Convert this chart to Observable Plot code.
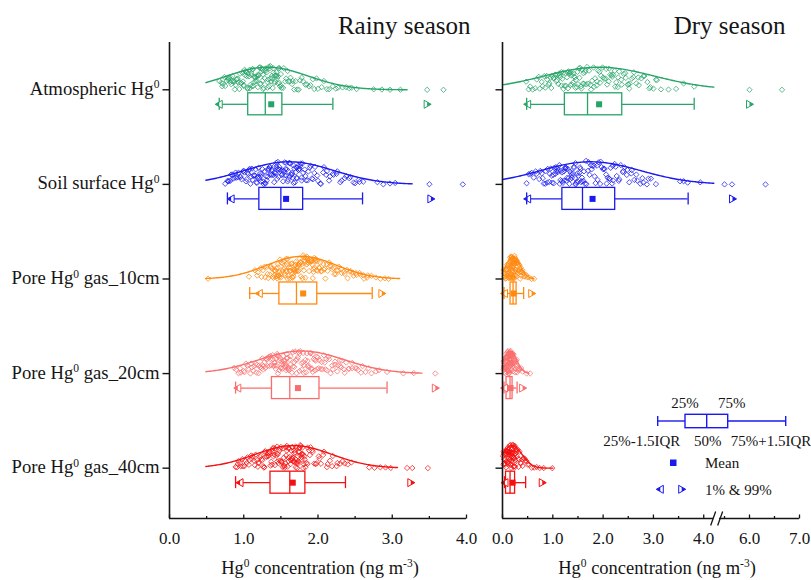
<!DOCTYPE html>
<html><head><meta charset="utf-8">
<script src="https://cdn.jsdelivr.net/npm/d3@7"></script>
<script src="https://cdn.jsdelivr.net/npm/@observablehq/plot@0.6"></script>
<style>
body{margin:0;background:#fff;}
#wrap{position:relative;width:811px;height:580px;overflow:hidden;background:#fff}
#left{position:absolute;left:0;top:0}
#right{position:absolute;left:485px;top:0}
</style></head><body><div id="wrap"><div id="left"></div><div id="right"></div></div>
<script>
const FONT = '"Liberation Serif", "Times New Roman", Times, serif';

const categories = ["Atmospheric Hg\u2070", "Soil surface Hg\u2070", "Pore Hg\u2070 gas_10cm", "Pore Hg\u2070 gas_20cm", "Pore Hg\u2070 gas_40cm"];
const seriesColors = ["#27a468", "#1a1aef", "#ff8a10", "#f96d6d", "#f41010"];
const seasonTitles = ["Rainy season", "Dry season"];
const axisTitle = "Hg\u2070 concentration (ng m\u207B\u00B3)";

// ---- Rainy season observations (ng m-3)
const rainyAtmospheric = [0.67,0.70,0.72,0.75,0.78,0.80,0.82,0.84,0.86,0.88,0.90,0.92,0.93,0.95,0.97,0.99,1.00,1.01,1.02,1.03,1.04,1.05,
1.07,1.08,1.09,1.10,1.11,1.12,1.13,1.14,1.15,1.16,1.17,1.18,1.19,1.20,1.21,1.22,1.23,1.24,1.25,1.26,1.27,1.28,
1.30,1.31,1.32,1.33,1.34,1.35,1.36,1.37,1.38,1.39,1.40,1.41,1.42,1.43,1.44,1.45,1.46,1.47,1.48,1.49,1.50,1.51,
1.54,1.57,1.60,1.63,1.66,1.70,1.74,1.78,1.83,1.88,1.93,1.98,2.05,2.12,2.20,2.27,2.38,2.45,2.75,2.86,2.97,3.11,3.47,3.69,
0.71,0.74,0.77,0.79,0.81,0.83,0.85,0.87,0.89,0.91,0.94,0.96,0.98,1.00,1.02,1.04,1.06,1.08,1.10,1.12,1.14,1.16,1.18,1.20,
1.22,1.24,1.26,1.28,1.30,1.32,1.34,1.36,1.38,1.40,1.42,1.44,1.46,1.48,1.50,1.53,1.56,1.59,1.62,1.65,1.68,1.72,1.76,1.80,
1.85,1.90,1.95,2.00,2.08,2.15,2.24,2.33,2.42,2.52,1.05,1.25];
const rainySoilSurface = [0.75,0.78,0.80,0.83,0.86,0.88,0.90,0.92,0.95,0.97,0.99,1.01,1.03,1.05,1.06,1.08,1.10,1.11,1.13,1.14,1.15,1.17,1.18,1.19,1.20,
1.22,1.23,1.24,1.25,1.27,1.28,1.29,1.30,1.31,1.33,1.34,1.35,1.36,1.37,1.38,1.40,1.41,1.42,1.43,1.44,1.45,1.46,1.47,1.48,1.49,
1.51,1.52,1.53,1.55,1.56,1.57,1.58,1.60,1.61,1.62,1.63,1.65,1.66,1.67,1.68,1.70,1.71,1.72,1.73,1.74,1.75,1.76,1.77,1.78,1.79,
1.82,1.84,1.87,1.90,1.93,1.96,2.00,2.04,2.08,2.12,2.16,2.21,2.26,2.32,2.38,2.44,2.50,2.55,2.61,2.80,2.88,2.97,3.04,3.50,3.95,
0.79,0.82,0.85,0.89,0.93,0.96,1.00,1.04,1.07,1.09,1.12,1.16,1.19,1.21,1.23,1.26,1.29,1.32,1.35,1.38,1.41,1.44,1.47,1.50,
1.52,1.54,1.57,1.59,1.62,1.64,1.67,1.69,1.72,1.75,1.78,1.80,1.83,1.86,1.89,1.92,1.95,1.99,2.03,2.07,2.11,2.15,2.20,2.25,
2.30,2.36,2.42,2.48,2.56,1.40,1.55,1.65,1.33,1.46,1.60,1.71];
const rainyPore10 = [0.52,1.07,1.15,1.19,1.23,1.26,1.29,1.31,1.33,1.35,1.36,1.38,1.39,1.40,1.41,1.42,1.43,1.44,1.45,1.45,1.46,1.46,1.47,1.47,1.48,
1.49,1.50,1.51,1.52,1.53,1.54,1.55,1.56,1.57,1.58,1.59,1.60,1.61,1.62,1.63,1.64,1.65,1.66,1.66,1.67,1.68,1.68,1.69,1.70,1.70,
1.72,1.73,1.74,1.75,1.76,1.77,1.78,1.79,1.80,1.81,1.83,1.84,1.85,1.86,1.87,1.88,1.90,1.91,1.92,1.93,1.94,1.95,1.96,1.97,1.98,
2.01,2.03,2.05,2.08,2.10,2.13,2.16,2.19,2.22,2.25,2.28,2.32,2.36,2.40,2.44,2.48,2.52,2.57,2.62,2.67,2.72,2.78,2.84,2.90,2.95,
1.18,1.24,1.28,1.32,1.37,1.41,1.44,1.48,1.50,1.53,1.55,1.57,1.59,1.61,1.63,1.65,1.67,1.69,1.71,1.73,1.75,1.77,1.79,1.81,
1.83,1.85,1.87,1.89,1.91,1.93,1.95,1.97,1.99,2.02,2.04,2.07,2.09,2.12,2.15,2.18,2.21,2.24,2.27,2.31,2.35,2.39,2.43,2.47,
2.51,2.56,2.61,2.66,1.62,1.74,1.86,1.58,1.70,1.82,1.94,2.00];
const rainyPore20 = [0.87,0.90,0.93,0.96,1.00,1.03,1.06,1.09,1.11,1.14,1.16,1.18,1.20,1.22,1.24,1.26,1.27,1.29,1.30,1.31,1.32,1.34,1.35,1.36,1.37,
1.39,1.40,1.41,1.42,1.43,1.44,1.45,1.46,1.47,1.48,1.49,1.50,1.51,1.52,1.53,1.54,1.55,1.56,1.57,1.58,1.58,1.59,1.60,1.60,1.61,
1.63,1.65,1.66,1.68,1.70,1.71,1.73,1.75,1.76,1.78,1.80,1.81,1.83,1.85,1.86,1.88,1.90,1.91,1.93,1.94,1.96,1.97,1.98,2.00,2.01,
2.04,2.06,2.09,2.12,2.14,2.17,2.20,2.23,2.26,2.29,2.32,2.35,2.38,2.42,2.46,2.50,2.54,2.58,2.64,2.72,2.82,2.93,3.15,3.29,3.58,
0.95,1.01,1.05,1.10,1.13,1.17,1.21,1.25,1.28,1.33,1.36,1.39,1.42,1.45,1.48,1.51,1.54,1.57,1.60,1.63,1.66,1.69,1.72,1.75,
1.78,1.81,1.84,1.87,1.90,1.93,1.96,1.99,2.02,2.05,2.08,2.11,2.15,2.19,2.23,2.27,2.31,2.36,2.41,2.46,2.52,2.60,2.68,2.78,
1.50,1.62,1.74,1.86,1.44,1.56,1.68,1.80,1.92,2.10,2.30,1.25];
const rainyPore40 = [0.89,0.91,0.93,0.96,0.99,1.02,1.05,1.08,1.10,1.12,1.14,1.16,1.18,1.20,1.22,1.24,1.25,1.27,1.28,1.29,1.31,1.32,1.33,1.34,1.35,
1.37,1.38,1.39,1.40,1.41,1.42,1.44,1.45,1.46,1.47,1.48,1.49,1.50,1.51,1.52,1.53,1.54,1.55,1.56,1.57,1.58,1.59,1.60,1.60,1.61,
1.63,1.64,1.65,1.65,1.66,1.67,1.68,1.69,1.70,1.70,1.71,1.72,1.73,1.74,1.75,1.75,1.76,1.77,1.78,1.79,1.79,1.80,1.81,1.82,1.82,
1.84,1.86,1.88,1.90,1.92,1.95,1.98,2.01,2.04,2.08,2.12,2.16,2.20,2.25,2.30,2.36,2.45,2.69,2.76,2.84,2.91,2.98,3.20,3.27,3.48,
0.92,0.95,0.98,1.01,1.04,1.07,1.11,1.15,1.19,1.23,1.26,1.30,1.33,1.36,1.39,1.42,1.45,1.48,1.51,1.54,1.57,1.60,1.62,1.64,
1.66,1.68,1.70,1.72,1.74,1.76,1.78,1.80,1.83,1.86,1.89,1.93,1.97,2.02,2.07,2.13,2.19,2.26,2.33,1.50,1.55,1.65,1.70,1.75,
1.40,1.45,1.58,1.68,1.73,1.78,1.20,1.28,1.35,1.63,1.71,2.40];

// ---- Dry season observations (ng m-3)
const dryAtmospheric = [0.47,0.52,0.60,0.68,0.74,0.80,0.85,0.89,0.93,0.96,0.99,1.02,1.05,1.07,1.09,1.11,1.13,1.15,1.17,1.19,1.21,1.23,
1.26,1.28,1.30,1.32,1.34,1.36,1.38,1.40,1.42,1.44,1.46,1.48,1.50,1.52,1.54,1.56,1.58,1.60,1.62,1.64,1.66,1.68,
1.72,1.75,1.78,1.81,1.84,1.87,1.90,1.93,1.96,1.99,2.02,2.05,2.08,2.11,2.14,2.17,2.20,2.23,2.26,2.29,2.32,2.36,
2.41,2.45,2.49,2.50,2.53,2.57,2.61,2.66,2.71,2.76,2.82,2.88,2.94,3.00,3.07,3.15,3.30,3.45,3.60,3.81,6.00,6.65,
0.55,0.65,0.72,0.78,0.83,0.88,0.92,0.97,1.01,1.05,1.09,1.13,1.17,1.21,1.25,1.29,1.33,1.37,1.41,1.45,1.49,1.53,1.57,
1.61,1.65,1.70,1.76,1.82,1.88,1.94,2.00,2.06,2.12,2.18,2.24,2.30,2.37,2.44,2.52,2.60,2.70,2.80,2.92,3.05,1.35];
const drySoilSurface = [0.48,0.55,0.62,0.68,0.73,0.78,0.82,0.86,0.90,0.93,0.96,0.99,1.01,1.03,1.05,1.07,1.09,1.11,1.13,1.15,1.16,1.18,
1.20,1.22,1.24,1.26,1.27,1.29,1.31,1.33,1.35,1.36,1.38,1.40,1.42,1.44,1.45,1.47,1.49,1.51,1.53,1.55,1.56,1.58,
1.61,1.64,1.67,1.70,1.73,1.76,1.79,1.82,1.85,1.88,1.91,1.94,1.97,2.00,2.03,2.06,2.09,2.12,2.15,2.18,2.20,2.23,
2.27,2.31,2.35,2.39,2.43,2.47,2.52,2.57,2.62,2.68,2.74,2.80,2.87,2.95,3.05,3.53,3.60,3.68,3.93,5.50,5.65,6.32,
0.52,0.58,0.66,0.75,0.80,0.85,0.89,0.94,0.98,1.02,1.06,1.10,1.14,1.18,1.22,1.26,1.30,1.34,1.38,1.42,1.46,1.50,1.54,
1.58,1.62,1.66,1.71,1.77,1.83,1.89,1.95,2.01,2.07,2.13,2.19,2.25,2.32,2.40,2.48,2.56,2.66,2.78,2.90,1.25,1.45];
const dryPore10 = [0.02,0.04,0.05,0.06,0.07,0.08,0.09,0.10,0.11,0.12,0.12,0.13,0.13,0.14,0.14,0.15,0.15,
0.16,0.16,0.17,0.17,0.17,0.18,0.18,0.18,0.19,0.19,0.19,0.20,0.20,0.20,0.21,0.21,0.21,
0.22,0.22,0.22,0.23,0.23,0.23,0.24,0.24,0.24,0.25,0.25,0.26,0.26,0.26,0.27,0.27,0.28,
0.29,0.30,0.31,0.32,0.33,0.34,0.35,0.36,0.37,0.38,0.40,0.42,0.45,0.49,0.53,0.58,0.63,
0.03,0.06,0.08,0.10,0.11,0.13,0.14,0.15,0.16,0.17,0.18,0.19,0.20,0.21,0.22,0.23,0.24,0.25,0.26,0.27,0.28,0.30,0.32,0.34,0.36,0.39,0.43,0.47,0.20,0.18];
const dryPore20 = [0.02,0.03,0.03,0.04,0.04,0.05,0.05,0.06,0.06,0.07,0.07,0.08,0.08,0.08,0.09,
0.09,0.10,0.10,0.11,0.11,0.12,0.12,0.13,0.13,0.13,0.14,0.14,0.14,0.15,0.15,
0.15,0.16,0.16,0.16,0.17,0.17,0.17,0.18,0.18,0.18,0.19,0.19,0.19,0.20,0.20,
0.21,0.22,0.23,0.24,0.25,0.26,0.27,0.28,0.29,0.31,0.34,0.37,0.40,0.48,0.55,
0.02,0.04,0.05,0.06,0.07,0.08,0.09,0.10,0.11,0.12,0.13,0.14,0.15,0.16,0.17,0.18,0.19,0.20,0.21,0.22,0.23,0.25,0.27,0.30,0.33,0.12,0.14,0.16,0.10,0.18];
const dryPore40 = [0.01,0.02,0.03,0.04,0.04,0.05,0.06,0.06,0.07,0.08,0.08,0.09,0.09,0.10,0.10,0.10,
0.11,0.11,0.12,0.12,0.13,0.13,0.14,0.14,0.15,0.15,0.16,0.16,0.17,0.17,0.18,0.18,
0.19,0.19,0.20,0.20,0.21,0.21,0.22,0.22,0.23,0.23,0.24,0.24,0.24,0.25,0.25,0.25,
0.26,0.28,0.30,0.32,0.34,0.37,0.40,0.44,0.48,0.53,0.58,0.63,0.68,0.74,0.82,0.99,
0.02,0.03,0.05,0.07,0.08,0.09,0.11,0.12,0.13,0.14,0.15,0.16,0.17,0.18,0.19,0.20,0.21,0.22,0.23,0.24,0.26,0.27,0.29,0.31,0.33,0.36,0.39,0.42,0.46,0.50];

// ---- Box statistics (order follows categories)
const rainyQ1     = [1.06, 1.21, 1.48, 1.38, 1.36];
const rainyMedian = [1.29, 1.50, 1.71, 1.62, 1.62];
const rainyQ3     = [1.52, 1.80, 1.99, 2.02, 1.83];
const rainyMean   = [1.37, 1.57, 1.80, 1.73, 1.66];
const rainyLow    = [0.67, 0.78, 1.08, 0.89, 0.89];
const rainyHigh   = [2.20, 2.60, 2.73, 2.93, 2.37];
const rainyP1     = [0.67, 0.83, 1.21, 0.92, 0.95];
const rainyP99    = [3.47, 3.52, 2.86, 3.58, 3.25];

const dryQ1     = [1.24, 1.19, 0.16, 0.08, 0.07];
const dryMedian = [1.69, 1.59, 0.21, 0.15, 0.15];
const dryQ3     = [2.38, 2.24, 0.28, 0.20, 0.25];
const dryMean   = [1.92, 1.79, 0.22, 0.16, 0.20];
const dryLow    = [0.48, 0.48, 0.03, 0.03, 0.04];
const dryHigh   = [3.81, 3.69, 0.42, 0.29, 0.46];
const dryP1     = [0.50, 0.50, 0.04, 0.04, 0.05];
const dryP99    = [6.00, 5.66, 0.58, 0.40, 0.79];

// ---- Normal-fit curves (mean, sd, drawn range)
const rainyFitMean  = [1.32, 1.61, 1.78, 1.78, 1.67];
const rainyFitSd    = [0.55, 0.61, 0.47, 0.58, 0.52];
const rainyFitStart = [0.49, 0.49, 0.49, 0.49, 0.49];
const rainyFitEnd   = [3.20, 3.27, 3.10, 3.40, 3.07];
const dryFitMean  = [1.92, 1.75, 0.21, 0.15, 0.19];
const dryFitSd    = [1.10, 1.00, 0.14, 0.13, 0.20];
const dryFitStart = [0.00, 0.00, 0.00, 0.00, 0.00];
const dryFitEnd   = [4.20, 4.20, 0.62, 0.52, 1.00];

// ---- Axis ticks
const rainyTicks = [0, 1, 2, 3, 4];
const rainyMinorTicks = [0.5, 1.5, 2.5, 3.5];
const dryTicks = [0, 1, 2, 3, 4, 6, 7];
const dryMinorTicks = [0.5, 1.5, 2.5, 3.5, 5.5, 6.5];

// ---- custom symbols
const sym = (f) => ({draw: f});
const yTickSym = sym(c => { c.moveTo(0, 0); c.lineTo(-7, 0); });
const xTickSym = sym(c => { c.moveTo(0, 0); c.lineTo(0, -4); });
const xMinorSym = sym(c => { c.moveTo(0, 0); c.lineTo(0, -2.5); });
const breakSym = sym(c => { c.moveTo(-6, 7); c.lineTo(-1, -7); c.moveTo(1, 7); c.lineTo(6, -7); });
const triROut = sym(c => { c.moveTo(-3, -4); c.lineTo(4, 0); c.lineTo(-3, 4); c.closePath(); });
const triRIn  = sym(c => { c.moveTo(0, -2.3); c.lineTo(4, 0); c.lineTo(0, 2.3); c.closePath(); });
const triLOut = sym(c => { c.moveTo(3, -4); c.lineTo(-4, 0); c.lineTo(3, 4); c.closePath(); });
const triLIn  = sym(c => { c.moveTo(0, -2.3); c.lineTo(-4, 0); c.lineTo(0, 2.3); c.closePath(); });

const ROW = 94.6;                 // px per category row
const PEAK = 22.6 / ROW;          // curve height
const BOXOFF = 14.5 / ROW, BOXH = 11 / ROW, CAPH = 6 / ROW;
const YBOT = 4.532;

// deterministic scatter (jitter) fraction for the j-th point of a row
const jitter = (j, row) => { const s = Math.sin((j + 1) * 12.9898 + (row + 1) * 78.233) * 43758.5453; return s - Math.floor(s); };

function panel(o) {
  const marks = [];
  o.groups.forEach((vals, row) => {
    const color = seriesColors[row];
    const mu = o.fitMean[row], sd = o.fitSd[row];
    const g = v => Math.exp(-0.5 * ((v - mu) / sd) ** 2);
    const pts = vals.map((v, j) => ({x: v, y: row - jitter(j, row + o.seed) * 1.05 * PEAK * g(v)}));
    marks.push(Plot.dot(pts, {x: "x", y: "y", symbol: "diamond2", r: 2.4, stroke: color, strokeWidth: 0.75, fill: "none"}));
    const cx = d3.range(161).map(k => o.fitStart[row] + (o.fitEnd[row] - o.fitStart[row]) * k / 160);
    marks.push(Plot.line(cx, {x: d => d, y: d => row - PEAK * g(d), stroke: color, strokeWidth: 1.4}));
    const s = {q1: o.q1[row], med: o.med[row], q3: o.q3[row], mean: o.mean[row], lo: o.lo[row], hi: o.hi[row], p1: o.p1[row], p99: o.p99[row]};
    const yc = row + BOXOFF;
    const sw = 1.3;
    marks.push(Plot.ruleY([s], {y: () => yc, x1: "lo", x2: "q1", stroke: color, strokeWidth: sw}));
    marks.push(Plot.ruleY([s], {y: () => yc, x1: "q3", x2: "hi", stroke: color, strokeWidth: sw}));
    marks.push(Plot.ruleX([s], {x: "lo", y1: () => yc - CAPH, y2: () => yc + CAPH, stroke: color, strokeWidth: sw}));
    marks.push(Plot.ruleX([s], {x: "hi", y1: () => yc - CAPH, y2: () => yc + CAPH, stroke: color, strokeWidth: sw}));
    marks.push(Plot.rect([s], {x1: "q1", x2: "q3", y1: () => yc - BOXH, y2: () => yc + BOXH, fill: "white", stroke: color, strokeWidth: sw}));
    marks.push(Plot.ruleX([s], {x: "med", y1: () => yc - BOXH, y2: () => yc + BOXH, stroke: color, strokeWidth: sw}));
    marks.push(Plot.dot([s], {x: "mean", y: () => yc, symbol: "square", r: 3.4, fill: color, stroke: "none"}));
    marks.push(Plot.dot([s], {x: "p1", y: () => yc, symbol: triLOut, fill: "white", stroke: color, strokeWidth: 1}));
    marks.push(Plot.dot([s], {x: "p1", y: () => yc, symbol: triLIn, fill: color, stroke: "none"}));
    marks.push(Plot.dot([s], {x: "p99", y: () => yc, symbol: triROut, fill: "white", stroke: color, strokeWidth: 1}));
    marks.push(Plot.dot([s], {x: "p99", y: () => yc, symbol: triRIn, fill: color, stroke: "none"}));
  });
  // axes
  marks.push(Plot.ruleX([0], {y1: () => -0.5, y2: () => YBOT, stroke: "#151515", strokeWidth: 1.6}));
  for (const [a, b] of o.segments) marks.push(Plot.ruleY([YBOT], {x1: () => a, x2: () => b, stroke: "#151515", strokeWidth: 1.6}));
  marks.push(Plot.dot(d3.range(categories.length), {x: () => 0, y: d => d, symbol: yTickSym, stroke: "#151515", strokeWidth: 1.4, fill: "none"}));
  marks.push(Plot.dot(o.ticks, {x: d => d, y: () => YBOT, symbol: xTickSym, stroke: "#151515", strokeWidth: 1.3, fill: "none"}));
  marks.push(Plot.dot(o.minor, {x: d => d, y: () => YBOT, symbol: xMinorSym, stroke: "#151515", strokeWidth: 1.3, fill: "none"}));
  if (o.breakAt != null) marks.push(Plot.dot([o.breakAt], {x: d => d, y: () => YBOT, symbol: breakSym, stroke: "#151515", strokeWidth: 1.3, fill: "none"}));
  marks.push(Plot.text(o.ticks, {x: d => d, y: () => YBOT, dy: 25, lineAnchor: "bottom", text: d => d3.format(".1f")(d), fontSize: 17, fill: "#151515"}));
  if (o.labels) marks.push(Plot.text(d3.range(categories.length), {x: () => 0, y: d => d, dx: -10, dy: -1, textAnchor: "end", text: d => categories[d], fontSize: 18.7, fill: "#151515"}));
  marks.push(Plot.text([o.title], {frameAnchor: "top-right", dx: o.titleDx, dy: -9, lineAnchor: "bottom", textAnchor: "end", fontSize: 25, fill: "#151515"}));
  marks.push(Plot.text([axisTitle], {frameAnchor: "bottom", dx: o.axisDx, dy: 55, lineAnchor: "bottom", fontSize: 18.5, fill: "#151515"}));

  return Plot.plot({
    width: o.width, height: 580,
    marginLeft: o.marginLeft, marginRight: o.marginRight, marginTop: 42, marginBottom: 62,
    style: {fontFamily: FONT, fontSize: "17px", color: "#151515", background: "white", overflow: "visible"},
    x: Object.assign({axis: null}, o.xScale),
    y: {domain: [-0.5, YBOT], range: [42, 518], axis: null},
    marks
  });
}

const left = panel({
  width: 485, marginLeft: 169, marginRight: 19, seed: 0,
  xScale: {domain: [0, 4], range: [169, 466]},
  groups: [rainyAtmospheric, rainySoilSurface, rainyPore10, rainyPore20, rainyPore40],
  fitMean: rainyFitMean, fitSd: rainyFitSd, fitStart: rainyFitStart, fitEnd: rainyFitEnd,
  q1: rainyQ1, med: rainyMedian, q3: rainyQ3, mean: rainyMean, lo: rainyLow, hi: rainyHigh, p1: rainyP1, p99: rainyP99,
  segments: [[0, 4]], ticks: rainyTicks, minor: rainyMinorTicks, breakAt: null,
  labels: true, title: seasonTitles[0], titleDx: 4, axisDx: 2
});
const right = panel({
  width: 326, marginLeft: 17, marginRight: 12, seed: 5,
  xScale: {type: "linear", domain: [0, 4.2, 5.4, 7], range: [17, 228.3, 234, 314]},
  groups: [dryAtmospheric, drySoilSurface, dryPore10, dryPore20, dryPore40],
  fitMean: dryFitMean, fitSd: dryFitSd, fitStart: dryFitStart, fitEnd: dryFitEnd,
  q1: dryQ1, med: dryMedian, q3: dryQ3, mean: dryMean, lo: dryLow, hi: dryHigh, p1: dryP1, p99: dryP99,
  segments: [[0, 4.2], [5.4, 7]], ticks: dryTicks, minor: dryMinorTicks, breakAt: 4.8,
  labels: false, title: seasonTitles[1], titleDx: -14, axisDx: 6
});
document.getElementById("left").appendChild(left);
document.getElementById("right").appendChild(right);

// ---- legend (box-plot key), drawn inside the dry-season panel
(function legend(svg) {
  const c = seriesColors[1];
  const g = d3.select(svg).append("g").attr("font-family", FONT).attr("font-size", 15).attr("fill", "#151515");
  const txt = (s, x, y, anchor) => g.append("text").attr("x", x).attr("y", y).attr("text-anchor", anchor).text(s);
  txt("25%", 200, 408, "middle");
  txt("75%", 246.7, 408, "middle");
  const ln = (x1, y1, x2, y2) => g.append("line").attr("x1", x1).attr("y1", y1).attr("x2", x2).attr("y2", y2).attr("stroke", c).attr("stroke-width", 1.4);
  ln(172.7, 421, 200, 421); ln(242.7, 421, 300.7, 421);
  ln(172.7, 416, 172.7, 426); ln(300.7, 416, 300.7, 426);
  g.append("rect").attr("x", 200).attr("y", 414.3).attr("width", 42.7).attr("height", 13.4).attr("fill", "white").attr("stroke", c).attr("stroke-width", 1.4);
  ln(221.7, 414.3, 221.7, 427.7);
  txt("25%-1.5IQR", 156.7, 446, "middle");
  txt("50%", 222.7, 446, "middle");
  txt("75%+1.5IQR", 286, 446, "middle");
  g.append("rect").attr("x", 185).attr("y", 459.5).attr("width", 6.5).attr("height", 6.5).attr("fill", c);
  txt("Mean", 220, 468, "start");
  const sy = d3.symbol().size(30);
  g.append("path").attr("transform", "translate(175.3,489.3)").attr("d", sy.type(triLOut)()).attr("fill", "white").attr("stroke", c);
  g.append("path").attr("transform", "translate(175.3,489.3)").attr("d", sy.type(triLIn)()).attr("fill", c);
  g.append("path").attr("transform", "translate(196.7,489.3)").attr("d", sy.type(triROut)()).attr("fill", "white").attr("stroke", c);
  g.append("path").attr("transform", "translate(196.7,489.3)").attr("d", sy.type(triRIn)()).attr("fill", c);
  txt("1% & 99%", 220, 494.5, "start");
})(right);

// ---- render unicode superscripts as real raised text in the serif font
function supify(root) {
  d3.select(root).selectAll("text").each(function () {
    if (this.querySelector("tspan")) return;
    const t = this.textContent;
    if (!/[\u2070\u207B\u00B3]/.test(t)) return;
    const sel = d3.select(this);
    sel.text(null);
    let up = false;
    for (const p of t.split(/([\u2070\u207B\u00B3]+)/)) {
      if (!p) continue;
      const isSup = /^[\u2070\u207B\u00B3]+$/.test(p);
      const s = p.replace(/\u2070/g, "0").replace(/\u207B/g, "-").replace(/\u00B3/g, "3");
      const ts = sel.append("tspan").text(s);
      if (isSup) { ts.attr("font-size", "0.62em").attr("dy", "-0.55em"); up = true; }
      else if (up) { ts.attr("dy", "0.341em"); up = false; }
    }
  });
}
supify(left); supify(right);
</script>
</body></html>
